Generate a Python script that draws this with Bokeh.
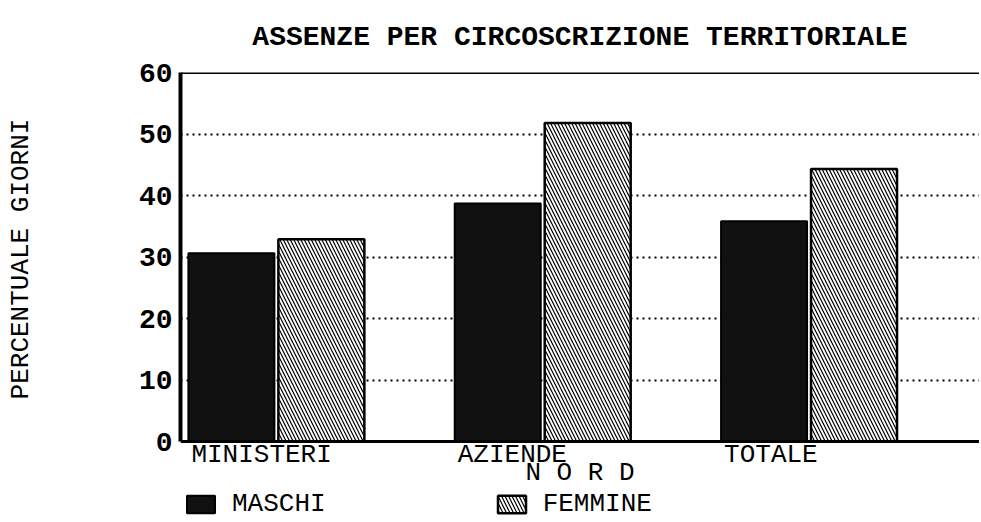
from bokeh.plotting import figure
from bokeh.models import FixedTicker, Span, Legend, LegendItem, ColumnDataSource
from bokeh.core.properties import value
from bokeh.transform import dodge
from bokeh.embed import file_html
from bokeh.resources import INLINE

title_text = "ASSENZE PER CIRCOSCRIZIONE TERRITORIALE"
categories = ["MINISTERI", "AZIENDE", "TOTALE"]
maschi = [30.6, 38.7, 35.8]
femmine = [32.9, 51.8, 44.3]
y_ticks = [0, 10, 20, 30, 40, 50, 60]
x_label = "N O R D"
y_label = "PERCENTUALE GIORNI"
series_names = ["MASCHI", "FEMMINE"]

FONT = "Liberation Mono"
FS = 28  # px
FSB = 26  # px, bottom texts

px_per_unit = 266.4
bw = 86 / px_per_unit
off = 45 / px_per_unit
px_per_y = 6.15
y_bottom = -82 / px_per_y  # frame extends below zero to hold labels and legend

idx = list(range(len(categories)))
src = ColumnDataSource(dict(x=idx, m=maschi, f=femmine))
lab_src = ColumnDataSource(dict(x=[i - off - bw / 2 + 3 / px_per_unit for i in idx],
                                y=[0] * len(idx), t=categories))

x_start, x_end = -0.36, 2.64
p = figure(frame_width=799, frame_height=451, output_backend="svg", toolbar_location=None,
           x_range=(x_start, x_end), y_range=(y_bottom, 60),
           min_border_left=180, min_border_top=55, min_border_bottom=0, min_border_right=0)

p.title.text = title_text
p.title.align = "center"
p.title.text_font = FONT
p.title.text_font_size = f"{FS}px"
p.title.text_font_style = "bold"
p.title.text_color = "black"
p.title.standoff = 39

p.outline_line_color = None
p.background_fill_color = "white"

r_m = p.vbar(x=dodge("x", -off, range=p.x_range), top="m", bottom=0, width=bw, source=src,
             fill_color="#111111", line_color="black", line_width=2)
r_f = p.vbar(x=dodge("x", off, range=p.x_range), top="f", bottom=0, width=bw, source=src,
             fill_color="white", line_color="black", line_width=2.5,
             hatch_pattern="left_diagonal_line", hatch_color="black",
             hatch_scale=7, hatch_weight=1.2)

# grid
p.xgrid.visible = False
p.ygrid.ticker = FixedTicker(ticks=y_ticks[1:-1])
p.ygrid.grid_line_color = "black"
p.ygrid.grid_line_dash = "2 4"
p.ygrid.grid_line_width = 2
p.ygrid.level = "underlay"

p.add_layout(Span(location=60, dimension="width", line_color="black", line_width=3))
p.add_layout(Span(location=0, dimension="width", line_color="black", line_width=3))

# y axis
ya = p.yaxis[0]
ya.ticker = FixedTicker(ticks=y_ticks)
ya.bounds = (0, 60)
ya.axis_line_width = 4
ya.major_tick_out = 0
ya.major_tick_in = 0
ya.minor_tick_out = 0
ya.minor_tick_in = 0
ya.major_label_text_font = FONT
ya.major_label_text_font_size = f"{FS}px"
ya.major_label_text_font_style = "bold"
ya.major_label_text_color = "black"
ya.major_label_standoff = 8
# leading no-break spaces lift the visible label so it sits beside the 0-60 span
ya.axis_label = "\u00a0" * 5 + y_label
ya.axis_label_text_font = FONT
ya.axis_label_text_font_size = "26px"
ya.axis_label_text_font_style = "normal"
ya.axis_label_text_color = "black"
ya.axis_label_standoff = 100

p.xaxis.visible = False

# category labels and axis title below the baseline
p.text(x="x", y="y", text="t", source=lab_src, text_align="left", text_baseline="top",
       y_offset=-2, text_font=value(FONT), text_font_size=f"{FSB}px", text_color="black")
p.text(x=[(x_start + x_end) / 2], y=[0], text=[x_label], text_align="center",
       text_baseline="top", y_offset=16, text_font=value(FONT),
       text_font_size=f"{FSB}px", text_color="black")

legend = Legend(items=[LegendItem(label=series_names[0], renderers=[r_m]),
                       LegendItem(label=series_names[1], renderers=[r_f])],
                orientation="horizontal", location=(3, 4),
                glyph_width=35, glyph_height=22, label_standoff=14, spacing=168,
                padding=0, margin=0, border_line_color=None, background_fill_alpha=0,
                label_text_font=FONT, label_text_font_size=f"{FSB}px",
                label_text_color="black")
p.add_layout(legend, "center")

open("out.html", "w").write(file_html(p, INLINE))
